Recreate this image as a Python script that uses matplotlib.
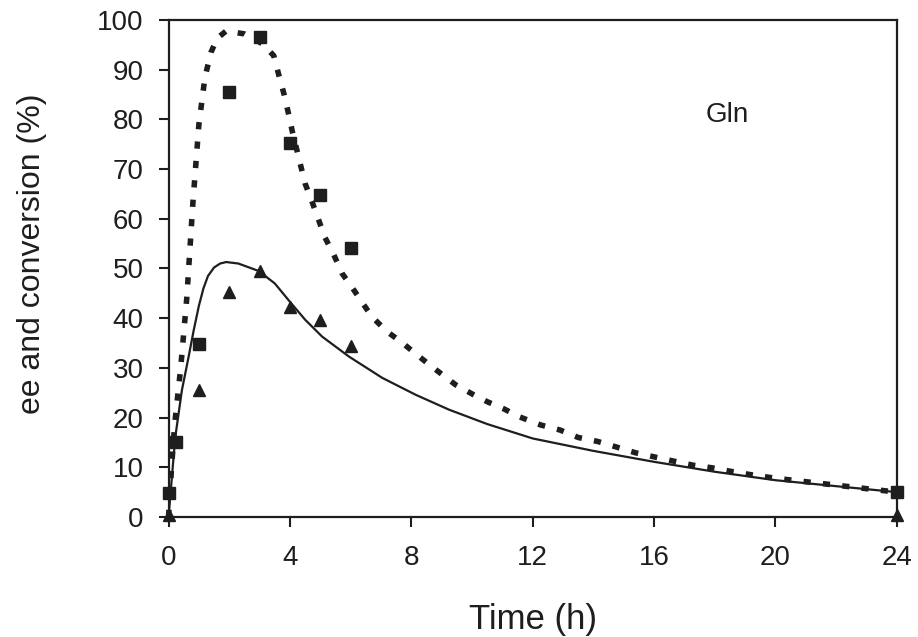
import matplotlib
matplotlib.use("Agg")
import matplotlib.pyplot as plt

plt.rcParams['font.family'] = ['Liberation Sans', 'DejaVu Sans']

# measured points
t_ee = [0, 0.25, 1, 2, 3, 4, 5, 6, 24]
ee = [4.8, 15, 34.9, 85.6, 96.6, 75.2, 64.8, 54.1, 5]
t_conv = [0, 1, 2, 3, 4, 5, 6, 24]
conv = [0.5, 25.6, 45.3, 49.4, 42.3, 39.6, 34.4, 0.5]

# model curves
t_fit_ee = [0, 0.1, 0.2, 0.4, 0.6, 0.8, 1.0, 1.2, 1.4, 1.6, 1.9, 2.5, 3.1, 3.47, 3.63,
            3.8, 3.94, 4.07, 4.35, 4.5, 4.73, 4.95, 5.15, 5.45, 5.72, 6.07, 6.4,
            6.7, 7.2, 7.65, 8.6, 9.46, 10.08, 10.5, 11.07, 11.5, 12.27, 12.9, 13.5,
            14.14, 14.8, 15.4, 16, 16.6, 17.3, 17.9, 18.6, 19.3, 20, 22, 24]
fit_ee = [0, 10, 18.5, 30, 44, 63, 79, 88.5, 93.5, 96.3, 97.8, 97.2, 95.2, 92.8, 89,
          85.2, 81.5, 77.8, 70.8, 67.1, 63.4, 59.7, 56.3, 52.7, 49, 46, 43,
          40.3, 37.3, 35.3, 30.6, 26.6, 24.5, 23.2, 21.7, 20.3, 18.5, 17.5, 16,
          15.2, 14, 12.9, 12.1, 11.3, 10.4, 9.9, 9.1, 8.4, 7.8, 6.4, 5]
t_fit_conv = [0, 0.22, 0.44, 0.66, 0.83, 1.0, 1.15, 1.3, 1.5, 1.7, 1.9, 2.3, 2.97, 3.5,
              4.0, 4.5, 5.06, 5.94, 7.04, 8.14, 9.24, 10.5, 12, 14, 16, 18, 20, 22, 24]
fit_conv = [0, 16, 25.5, 32.2, 37.6, 42.5, 46, 48.5, 50.2, 51, 51.3, 51, 49.5, 47,
            43.3, 39.7, 36.3, 32.3, 28, 24.6, 21.6, 18.7, 15.8, 13.3, 11.1, 9.1,
            7.4, 6.2, 5]

ink = '#1e1e1e'

fig = plt.figure(figsize=(9.18, 6.37), dpi=100)
ax = fig.add_axes([0.1836, 0.1884, 0.977 - 0.1836, 0.9686 - 0.1884])

ax.plot(t_fit_ee, fit_ee, color=ink, lw=4, linestyle=(0, (1.3, 2.2)),
        dash_capstyle='butt', clip_on=False)
ax.plot(t_fit_conv, fit_conv, color=ink, lw=1.6, clip_on=False)
ax.plot(t_ee, ee, 's', color=ink, ms=8, clip_on=False, zorder=5)
ax.plot(t_conv, conv, '^', color=ink, ms=8, clip_on=False, zorder=5)

ax.set_xlim(0, 24)
ax.set_ylim(0, 100)
ax.set_xticks(range(0, 25, 4))
ax.set_yticks(range(0, 101, 10))
ax.tick_params(direction='out', length=7, width=1.5, colors=ink,
               labelsize=20, pad=11)
ax.tick_params(axis='x', pad=13)
for s in ax.spines.values():
    s.set_linewidth(1.6)
    s.set_color(ink)

ax.text(18.4, 80.9, 'Gln', fontsize=20, color=ink, ha='center', va='center')

fig.text(533 / 918, 1 - 620 / 637, 'Time (h)', fontsize=25, color=ink,
         ha='center', va='center')
fig.text(32 / 918, 1 - 254 / 637, 'ee and conversion (%)', fontsize=23,
         color=ink, rotation=90, ha='center', va='center')

fig.savefig('out.png', dpi=100)
